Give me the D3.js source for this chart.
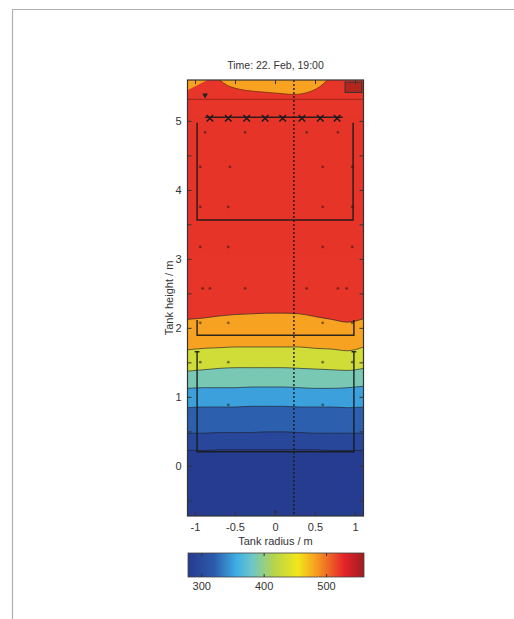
<!DOCTYPE html>
<html><head><meta charset="utf-8">
<script src="https://cdn.jsdelivr.net/npm/d3@7"></script>
<style>body{margin:0;background:#fff;} text{font-family:"Liberation Sans",Arial,sans-serif;fill:#333;}</style>
</head><body><svg id="c" width="514" height="619"></svg>
<script>
// ---------- data ----------
const title = "Time: 22. Feb, 19:00";
const xLabel = "Tank radius / m";
const yLabel = "Tank height / m";
const xTicks = [-1, -0.5, 0, 0.5, 1];
const xTickLabels = ["-1", "-0.5", "0", "0.5", "1"];
const yTicks = [0, 1, 2, 3, 4, 5];
const yMinorTicks = [-0.5, 0.5, 1.5, 2.5, 3.5, 4.5];
const cbTicks = [300, 400, 500];
const cbStopValues = [278, 320, 356, 380, 417, 454, 481, 529, 560];
const cbStopColors = ["#263a8f", "#2b5bab", "#3eaee4", "#6cc6c9", "#b8d54a", "#f2e61a", "#f7a321", "#e4222a", "#9e1d20"];

// radial sample positions for the contour boundaries
const radii = [-1.1, -0.9, -0.7, -0.5, -0.3, -0.1, 0.1, 0.3, 0.5, 0.7, 0.9, 1.1];
// band temperatures, bottom to top
const bandTemps = [280, 294, 322, 350, 386, 432, 481, 522];
// contour boundary heights (m) between successive bands, bottom to top
const contour1 = [0.23, 0.23, 0.24, 0.24, 0.24, 0.24, 0.24, 0.24, 0.24, 0.23, 0.23, 0.23];
const contour2 = [0.48, 0.48, 0.49, 0.49, 0.49, 0.50, 0.50, 0.49, 0.48, 0.48, 0.48, 0.48];
const contour3 = [0.85, 0.86, 0.86, 0.86, 0.87, 0.87, 0.87, 0.86, 0.86, 0.86, 0.85, 0.86];
const contour4 = [1.13, 1.14, 1.14, 1.14, 1.15, 1.15, 1.15, 1.14, 1.13, 1.13, 1.14, 1.16];
const contour5 = [1.38, 1.40, 1.42, 1.43, 1.43, 1.43, 1.43, 1.42, 1.41, 1.40, 1.39, 1.42];
const contour6 = [1.69, 1.71, 1.72, 1.73, 1.73, 1.73, 1.73, 1.73, 1.71, 1.70, 1.675, 1.73];
const contour7 = [2.13, 2.15, 2.18, 2.20, 2.21, 2.22, 2.22, 2.21, 2.17, 2.13, 2.09, 2.14];
// top orange patch (cooler layer near surface)
const topTemp = 481;
const topRadii = [-0.70, -0.60, -0.50, -0.30, -0.10, 0.10, 0.23, 0.40, 0.55, 0.65];
const topHeights = [5.60, 5.52, 5.48, 5.44, 5.42, 5.40, 5.39, 5.42, 5.50, 5.60];
const cornerRadii = [-1.1, -0.85, -1.1];
const cornerHeights = [5.60, 5.60, 5.45];
// sensor positions
const sensorR = [-0.88, -0.38, 0.39, 0.78, -0.94, -0.57, 0.59, 0.96, -0.94, -0.59, 0.59, 0.96,
  -0.94, -0.59, 0.59, 0.96, -0.91, -0.82, -0.38, 0.39, 0.78, 0.89, -0.94, -0.59, 0.59, 0.96,
  -0.94, -0.59, 0.59, 0.96, -0.59, 0.59, 0.0];
const sensorH = [4.84, 4.84, 4.84, 4.84, 4.34, 4.34, 4.34, 4.34, 3.76, 3.76, 3.76, 3.76,
  3.18, 3.18, 3.18, 3.18, 2.58, 2.58, 2.58, 2.58, 2.58, 2.58, 2.08, 2.08, 2.08, 2.08,
  1.51, 1.51, 1.51, 1.51, 0.89, 0.89, -0.66];
// heat exchanger nozzles
const nozzleR = [-0.82, -0.59, -0.36, -0.13, 0.09, 0.33, 0.56, 0.77];
const nozzleH = 5.06;

// ---------- drawing ----------
const svg = d3.select("#c");
const x = d3.scaleLinear().domain([-1.1, 1.1]).range([187.5, 363.5]);
const y = d3.scaleLinear().domain([-0.72, 5.6]).range([516, 80]);
const color = d3.scaleLinear().domain(cbStopValues).range(cbStopColors).clamp(true);

// page frame
svg.append("path").attr("d", "M12.5,619 V9.5 H514").attr("fill", "none").attr("stroke", "#b0b0b0").attr("stroke-width", 1.2);

svg.append("defs").append("clipPath").attr("id", "clip").append("rect")
  .attr("x", x(-1.1)).attr("y", y(5.6)).attr("width", x(1.1) - x(-1.1)).attr("height", y(-0.72) - y(5.6));

const g = svg.append("g").attr("clip-path", "url(#clip)");
const boundaries = [contour1, contour2, contour3, contour4, contour5, contour6, contour7];

g.append("rect").attr("x", x(-1.1)).attr("y", y(5.6)).attr("width", x(1.1) - x(-1.1)).attr("height", y(-0.72) - y(5.6))
  .attr("fill", color(bandTemps[bandTemps.length - 1]));
for (let i = boundaries.length - 1; i >= 0; i--) {
  const b = boundaries[i];
  const area = d3.area().x((d, j) => x(radii[j])).y0(y(-0.72)).y1((d) => y(d)).curve(d3.curveMonotoneX);
  g.append("path").attr("d", area(b)).attr("fill", color(bandTemps[i]));
}
const topArea = d3.area().x((d, j) => x(topRadii[j])).y0(y(5.6)).y1(d => y(d)).curve(d3.curveMonotoneX);
g.append("path").attr("d", topArea(topHeights)).attr("fill", color(topTemp));
g.append("path").attr("d", d3.line()(cornerRadii.map((r, j) => [x(r), y(cornerHeights[j])])) + "Z").attr("fill", color(topTemp));
g.append("path").attr("d", d3.line().curve(d3.curveMonotoneX)(topRadii.map((r, j) => [x(r), y(topHeights[j])])))
  .attr("fill", "none").attr("stroke", "#7a2a10").attr("stroke-width", 0.8);

boundaries.forEach(b => {
  const line = d3.line().x((d, j) => x(radii[j])).y(d => y(d)).curve(d3.curveMonotoneX);
  g.append("path").attr("d", line(b)).attr("fill", "none").attr("stroke", "#1e1e2a").attr("stroke-width", 0.9).attr("opacity", 0.7);
});

g.append("line").attr("x1", x(-1.1)).attr("x2", x(1.1)).attr("y1", y(5.32)).attr("y2", y(5.32))
  .attr("stroke", "#6b1b14").attr("stroke-width", 1).attr("opacity", 0.6);

const st = g.append("g").attr("fill", "none").attr("stroke", "#1a1a1a").attr("stroke-width", 1.5).attr("opacity", 0.9);
st.append("path").attr("d", `M${x(-0.98)},${y(4.98)} V${y(3.57)} H${x(0.97)} V${y(4.98)}`);
st.append("path").attr("d", `M${x(-0.88)},${y(nozzleH)} H${x(0.84)}`);
st.append("path").attr("d", `M${x(-0.98)},${y(2.12)} V${y(1.9)} H${x(0.98)} V${y(2.12)}`);
st.append("path").attr("d", `M${x(-0.98)},${y(1.66)} V${y(0.21)} H${x(0.98)} V${y(1.66)}`);
st.append("path").attr("d", `M${x(-1.01)},${y(1.66)} H${x(-0.95)} M${x(0.95)},${y(1.66)} H${x(1.01)}`);
g.selectAll(".noz").data(nozzleR).join("path")
  .attr("transform", d => `translate(${x(d)},${y(nozzleH) + 1})`)
  .attr("d", d3.symbol(d3.symbolTimes, 30)()).attr("fill", "none").attr("stroke", "#1a1a1a").attr("stroke-width", 1.5);
g.append("path").attr("transform", `translate(${x(-0.88)},${y(5.38)}) rotate(180)`)
  .attr("d", d3.symbol(d3.symbolTriangle, 14)()).attr("fill", "#222");
g.append("rect").attr("x", x(0.87)).attr("y", y(5.57)).attr("width", x(1.08) - x(0.87)).attr("height", y(5.42) - y(5.57))
  .attr("fill", "#b3261e").attr("stroke", "#333").attr("stroke-width", 1);

g.append("line").attr("x1", x(0.23)).attr("x2", x(0.23)).attr("y1", y(5.6)).attr("y2", y(-0.72))
  .attr("stroke", "#1a1a1a").attr("stroke-width", 1.4).attr("stroke-dasharray", "2,2");

g.selectAll(".sen").data(sensorR).join("circle")
  .attr("cx", d => x(d)).attr("cy", (d, i) => y(sensorH[i])).attr("r", 1.4)
  .attr("fill", "#2a1a1a").attr("opacity", 0.55);

svg.append("rect").attr("x", x(-1.1)).attr("y", y(5.6)).attr("width", x(1.1) - x(-1.1)).attr("height", y(-0.72) - y(5.6))
  .attr("fill", "none").attr("stroke", "#333").attr("stroke-width", 1.2);

const tk = svg.append("g").attr("stroke", "#333").attr("stroke-width", 1);
yTicks.concat(yMinorTicks).forEach(v => {
  tk.append("line").attr("x1", x(-1.1)).attr("x2", x(-1.1) + 4).attr("y1", y(v)).attr("y2", y(v));
  tk.append("line").attr("x1", x(1.1)).attr("x2", x(1.1) - 4).attr("y1", y(v)).attr("y2", y(v));
});
xTicks.forEach(v => {
  tk.append("line").attr("x1", x(v)).attr("x2", x(v)).attr("y1", y(-0.72)).attr("y2", y(-0.72) - 4);
  tk.append("line").attr("x1", x(v)).attr("x2", x(v)).attr("y1", y(5.6)).attr("y2", y(5.6) + 4);
});

svg.selectAll(".yl").data(yTicks).join("text")
  .attr("x", x(-1.1) - 6).attr("y", d => y(d) + 4).attr("text-anchor", "end").attr("font-size", 11).text(d => d);
svg.selectAll(".xl").data(xTicks).join("text")
  .attr("x", d => x(d)).attr("y", 531).attr("text-anchor", "middle").attr("font-size", 11).text((d, i) => xTickLabels[i]);

svg.append("text").attr("x", 275.5).attr("y", 69).attr("text-anchor", "middle").attr("font-size", 10.5).text(title);
svg.append("text").attr("x", 275.5).attr("y", 545).attr("text-anchor", "middle").attr("font-size", 11).text(xLabel);
svg.append("text").attr("transform", `translate(173,298) rotate(-90)`).attr("text-anchor", "middle").attr("font-size", 11).text(yLabel);

const cb = d3.scaleLinear().domain([278, 560]).range([188, 364]);
const grad = svg.select("defs").append("linearGradient").attr("id", "cbg").attr("x1", "0%").attr("x2", "100%");
cbStopValues.forEach((v, i) => grad.append("stop").attr("offset", (v - 278) / (560 - 278)).attr("stop-color", cbStopColors[i]));
svg.append("rect").attr("x", cb(278)).attr("y", 553).attr("width", cb(560) - cb(278)).attr("height", 24)
  .attr("fill", "url(#cbg)").attr("stroke", "#444").attr("stroke-width", 0.8);
cbTicks.forEach(v => {
  svg.append("line").attr("x1", cb(v)).attr("x2", cb(v)).attr("y1", 553).attr("y2", 556).attr("stroke", "#333");
  svg.append("line").attr("x1", cb(v)).attr("x2", cb(v)).attr("y1", 577).attr("y2", 574).attr("stroke", "#333");
});
svg.selectAll(".cl").data(cbTicks).join("text")
  .attr("x", d => cb(d)).attr("y", 590).attr("text-anchor", "middle").attr("font-size", 11).text(d => d);
</script></body></html>
